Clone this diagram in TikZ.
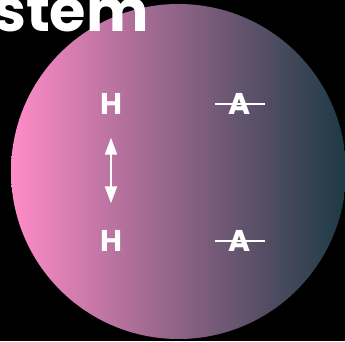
\documentclass[tikz,border=0pt]{standalone}
\usepackage{fontspec}
\setmainfont{Poppins}
\usetikzlibrary{arrows.meta}
\definecolor{pinkL}{RGB}{255,140,200}
\definecolor{tealR}{RGB}{28,58,68}
\tikzset{
  lbl/.style={text=white, inner sep=0pt, font=\fontsize{30}{32}\selectfont\bfseries},
  strike/.style={draw=white, line width=2pt},
  link/.style={draw=white, line width=2.2pt, {Triangle[width=12pt,length=17pt]}-{Triangle[width=12pt,length=17pt]}}
}
\begin{document}
\begin{tikzpicture}[x=1pt,y=-1pt]
\useasboundingbox (0,0) rectangle (345,341);
\clip (0,0) rectangle (345,341);
\fill[black] (0,0) rectangle (345,341);
\shade[left color=pinkL, right color=tealR] (178.5,171.5) circle[radius=167.5];
\node[anchor=base east, text=white, inner sep=0pt, font=\fontsize{59}{62}\selectfont\bfseries] (title) at (149,31) {System};
\node[lbl] (h1) at (111,104) {H};
\node[lbl] (h2) at (111,241) {H};
\node[lbl, minimum width=50pt] (a1) at (240,104) {A};
\node[lbl, minimum width=50pt] (a2) at (240,241) {A};
\draw[strike] (a1.west) -- (a1.east);
\draw[strike] (a2.west) -- (a2.east);
\draw[link, shorten <=23pt, shorten >=27pt] (h1.south) -- (h2.north);
\end{tikzpicture}
\end{document}
